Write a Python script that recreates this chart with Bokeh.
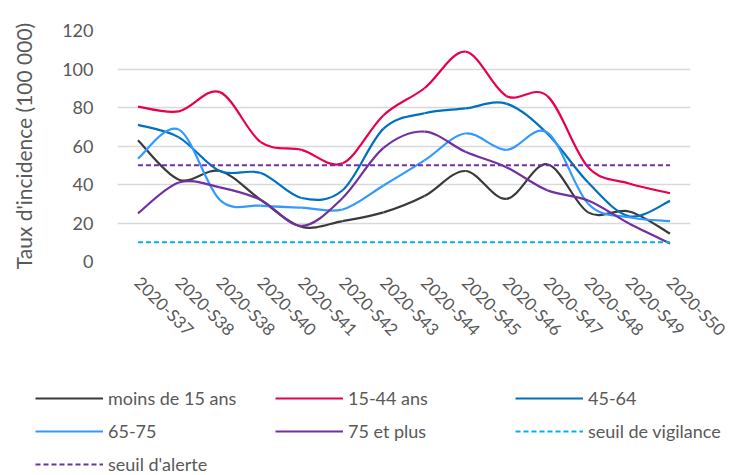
import math
from bokeh.plotting import figure
from bokeh.layouts import column
from bokeh.models import ColumnDataSource, FixedTicker, Legend, LegendItem
from bokeh.embed import file_html
from bokeh.resources import INLINE

# Weekly incidence rates per 100 000, by age group
weeks = ["2020-S37", "2020-S38", "2020-S38", "2020-S40", "2020-S41", "2020-S42", "2020-S43",
         "2020-S44", "2020-S45", "2020-S46", "2020-S47", "2020-S48", "2020-S49", "2020-S50"]
moins_15 = [63, 42.5, 47, 32, 18, 21, 25.5, 34, 47, 32.5, 50.5, 25.5, 26, 14.5]
ans_15_44 = [80.5, 78, 88, 62, 58, 51, 76, 90, 109, 86, 86, 49, 40.5, 35.5]
ans_45_64 = [71, 64.5, 47, 46, 33, 37, 69, 77, 79.5, 82, 66.5, 41, 23.5, 31.5]
ans_65_75 = [53.5, 68.5, 32, 29, 28, 27, 39.5, 52.5, 66.5, 58, 67, 30, 23, 21]
ans_75_plus = [25, 41, 38.5, 32, 18.5, 33, 59, 67.5, 57, 49, 37, 31.7, 19.7, 9.4]
seuil_vigilance = 10
seuil_alerte = 50

series = [
    ("moins de 15 ans", moins_15, "#3a3a3a"),
    ("15-44 ans", ans_15_44, "#e6004f"),
    ("45-64", ans_45_64, "#0070c0"),
    ("65-75", ans_65_75, "#3399ff"),
    ("75 et plus", ans_75_plus, "#7030a0"),
]
thresholds = [
    ("seuil de vigilance", seuil_vigilance, "#00b0f0"),
    ("seuil d'alerte", seuil_alerte, "#7030a0"),
]

FONT = "Lato"
TXT = "#595959"
N = len(weeks)

p = figure(width=730, height=370, output_backend="svg", toolbar_location=None,
           x_range=(-0.5, N - 0.5), y_range=(0, 120),
           min_border_left=117, min_border_right=40, min_border_top=30,
           min_border_bottom=109)
p.frame_align = False
p.outline_line_color = None
p.background_fill_color = "white"
p.border_fill_color = "white"

# y axis
p.yaxis.ticker = FixedTicker(ticks=[0, 20, 40, 60, 80, 100, 120])
p.yaxis.axis_line_color = None
p.yaxis.major_tick_line_color = None
p.yaxis.minor_tick_line_color = None
p.yaxis.major_label_text_font = FONT
p.yaxis.major_label_text_font_size = "18px"
p.yaxis.major_label_text_color = TXT
p.yaxis.major_label_standoff = 18
p.yaxis.axis_label = "Taux d'incidence (100 000)"
p.yaxis.axis_label_text_font = FONT
p.yaxis.axis_label_text_font_size = "21px"
p.yaxis.axis_label_text_font_style = "normal"
p.yaxis.axis_label_text_color = TXT
p.yaxis.axis_label_standoff = 23

# x axis: one tick per week
p.xaxis.ticker = FixedTicker(ticks=list(range(N)))
p.xaxis.major_label_overrides = {i: w for i, w in enumerate(weeks)}
p.xaxis.major_label_orientation = -math.pi / 4
p.xaxis.axis_line_color = None
p.xaxis.major_tick_line_color = None
p.xaxis.minor_tick_line_color = None
p.xaxis.major_label_text_font = FONT
p.xaxis.major_label_text_font_size = "17px"
p.xaxis.major_label_text_color = TXT
p.xaxis.major_label_standoff = 12

p.xgrid.grid_line_color = None
p.ygrid.grid_line_color = "#d9d9d9"
p.ygrid.grid_line_width = 1.5
p.ygrid.ticker = FixedTicker(ticks=[0, 20, 40, 60, 80, 100, 120])


def smooth_segments(values):
    """Cubic Bezier segments (Catmull-Rom style) through each data point."""
    n = len(values)
    xs = list(range(n))
    d = dict(x0=[], y0=[], x1=[], y1=[], cx0=[], cy0=[], cx1=[], cy1=[])
    for i in range(n - 1):
        xm, ym = xs[max(i - 1, 0)], values[max(i - 1, 0)]
        xa, ya = xs[i], values[i]
        xb, yb = xs[i + 1], values[i + 1]
        xp, yp = xs[min(i + 2, n - 1)], values[min(i + 2, n - 1)]
        d["x0"].append(xa); d["y0"].append(ya)
        d["x1"].append(xb); d["y1"].append(yb)
        d["cx0"].append(xa + (xb - xm) / 6); d["cy0"].append(ya + (yb - ym) / 6)
        d["cx1"].append(xb - (xp - xa) / 6); d["cy1"].append(yb - (yp - ya) / 6)
    return ColumnDataSource(d)


# legend panel below the chart; its entries use hidden copies of the glyphs
leg_fig = figure(width=730, height=105, output_backend="svg", toolbar_location=None,
                 x_axis_location=None, y_axis_location=None,
                 x_range=(-0.5, N - 0.5), y_range=(0, 120),
                 min_border_left=0, min_border_right=0, min_border_top=0,
                 min_border_bottom=0)
leg_fig.frame_align = False
leg_fig.outline_line_color = None
leg_fig.grid.grid_line_color = None
leg_fig.background_fill_color = "white"
leg_fig.border_fill_color = "white"

items = []
for name, vals, color in series:
    src = smooth_segments(vals)
    style = dict(x0="x0", y0="y0", x1="x1", y1="y1", cx0="cx0", cy0="cy0",
                 cx1="cx1", cy1="cy1", source=src, line_color=color, line_width=2.2)
    p.bezier(**style)
    r = leg_fig.bezier(**style)
    r.visible = False
    items.append(LegendItem(label=name, renderers=[r]))

for name, level, color in thresholds:
    style = dict(x=[0, N - 1], y=[level, level], line_color=color,
                 line_width=2, line_dash="5 3")
    p.line(**style)
    r = leg_fig.line(**style)
    r.visible = False
    items.append(LegendItem(label=name, renderers=[r]))

legend = Legend(items=items, orientation="horizontal", ncols=3,
                location=(35, 0.5),
                glyph_width=68, glyph_height=18, label_height=18, label_width=156,
                label_standoff=5, spacing=11, padding=0, margin=0,
                border_line_color=None, background_fill_alpha=0,
                label_text_font=FONT, label_text_font_size="18px",
                label_text_color=TXT)
leg_fig.add_layout(legend, "center")

layout = column(p, leg_fig, spacing=0)
open("out.html", "w").write(file_html(layout, INLINE))
